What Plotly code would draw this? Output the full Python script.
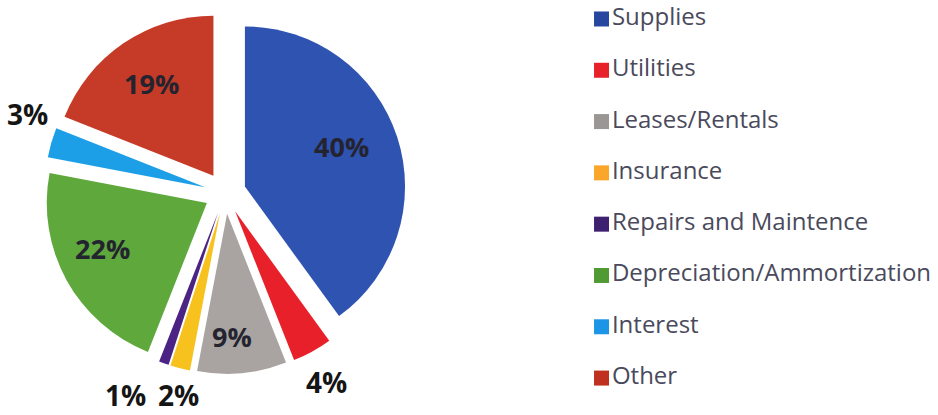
import plotly.graph_objects as go

labels = ["Supplies", "Utilities", "Leases/Rentals", "Insurance", "Repairs and Maintence",
          "Depreciation/Ammortization", "Interest", "Other"]
values = [40, 4, 9, 2, 1, 22, 3, 19]
pie_colors = ["#2f53b0", "#e8202a", "#a9a4a2", "#f7c21e", "#4b2384", "#5ea83c", "#1c9fe6", "#c63b27"]
legend_colors = ["#2646a0", "#e8202a", "#9a9694", "#f9a62a", "#3e2070", "#4f9a32", "#1c95e6", "#c0301f"]
# paper positions (x, y) of each slice's percentage label
label_xy = [(0.3646, 0.6458), (0.3486, 0.0795), (0.2473, 0.1880), (0.1898, 0.0480),
            (0.1343, 0.0480), (0.1098, 0.4024), (0.0288, 0.7253), (0.1620, 0.7976)]
inside = [True, False, True, False, False, True, False, True]

total = sum(values)
pct_text = [f"{round(v * 100 / total)}%" for v in values]

fig = go.Figure()
fig.add_trace(go.Pie(
    labels=labels, values=values, sort=False, direction="clockwise", rotation=0,
    marker=dict(colors=pie_colors, line=dict(width=0)),
    pull=[0.13] * len(values),
    textinfo="none",
    domain=dict(x=[0.047, 0.433], y=[0.099, 0.971]),
    showlegend=False, hoverinfo="label+percent",
))

for (px, py), txt, ins in zip(label_xy, pct_text, inside):
    fig.add_annotation(
        x=px, y=py, xref="paper", yref="paper", xanchor="center", yanchor="middle",
        text=f"<b>{txt}</b>", showarrow=False, borderpad=0,
        font=dict(family="Open Sans", size=27 if ins else 28,
                  color="#242430" if ins else "#151515"),
    )

# legend drawn as a marker+text column
n = len(labels)
fig.add_trace(go.Scatter(
    x=[0] * n, y=list(range(n)), mode="markers+text",
    marker=dict(symbol="square", size=15, color=legend_colors),
    text=labels, textposition="middle right",
    textfont=dict(family="Open Sans", size=24, color="#4a4a5c"),
    showlegend=False, hoverinfo="text", cliponaxis=False,
    xaxis="x", yaxis="y",
))

fig.update_layout(
    width=938, height=415, margin=dict(l=0, r=0, t=0, b=0, autoexpand=False),
    paper_bgcolor="white", plot_bgcolor="white",
    xaxis=dict(domain=[0.62, 1.0], range=[-20, 337], visible=False, fixedrange=True),
    yaxis=dict(domain=[0, 1], range=[7.72, -0.37], visible=False, fixedrange=True),
    showlegend=False,
)

fig.write_html("out.html")
